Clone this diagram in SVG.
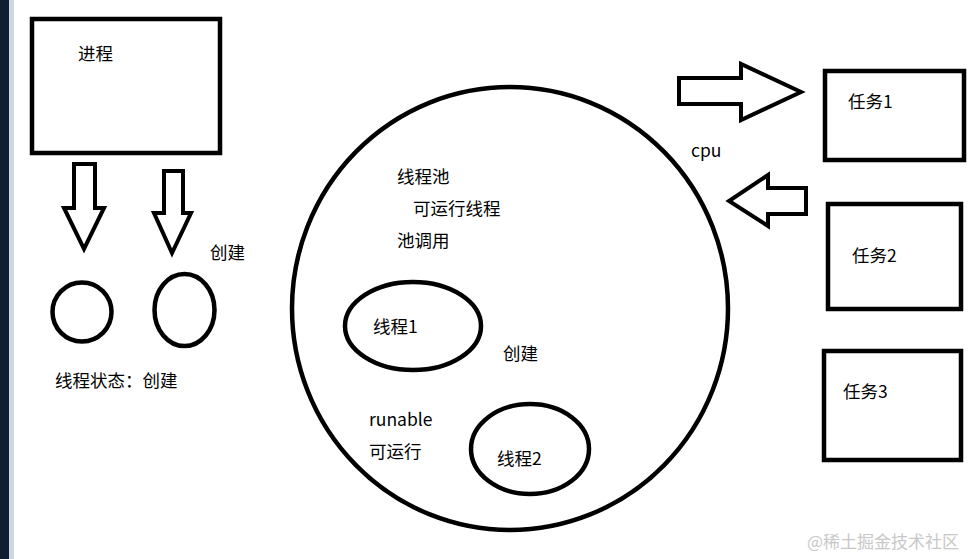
<svg xmlns="http://www.w3.org/2000/svg" width="972" height="559" viewBox="0 0 972 559">
<style>
.s{fill:none;stroke:#000;stroke-width:4.5;stroke-linejoin:miter}
.a{fill:#fff;stroke:#000;stroke-width:4;stroke-linejoin:miter}
.t{font-family:"Noto Sans CJK SC","Microsoft YaHei",sans-serif;font-size:17.5px;fill:#000}
.w{font-family:"Noto Sans CJK SC",sans-serif;font-size:17px;fill:#c8c8c8}
</style>
<rect x="0" y="0" width="972" height="559" fill="#fff"/>
<rect x="0" y="0" width="9" height="559" fill="#0f1e33"/>
<rect x="9" y="0" width="5" height="559" fill="#cdd6e4"/>
<g id="process">
<rect class="s" x="32" y="19" width="188" height="134"/>
<text class="t" x="78" y="60">进程</text>
</g>
<g id="thread-a"><circle class="s" cx="82" cy="312" r="29.5"/></g>
<g id="thread-b"><ellipse class="s" cx="184.5" cy="310" rx="30" ry="36"/></g>
<g id="label-create-left"><text class="t" x="210" y="259">创建</text></g>
<g id="label-state"><text class="t" x="55" y="387">线程状态：创建</text></g>
<g id="pool">
<ellipse class="s" cx="510" cy="308.5" rx="218" ry="221.5"/>
<text class="t" x="397" y="183">线程池</text>
<text class="t" x="413" y="215">可运行线程</text>
<text class="t" x="397" y="247">池调用</text>
<text class="t" x="503" y="360">创建</text>
<text class="t" x="369" y="426">runable</text>
<text class="t" x="369" y="458">可运行</text>
</g>
<g id="thread1">
<ellipse class="s" cx="413" cy="326" rx="68" ry="44"/>
<text class="t" x="373" y="333">线程1</text>
</g>
<g id="thread2">
<ellipse class="s" cx="530" cy="449" rx="59" ry="45"/>
<text class="t" x="497" y="465">线程2</text>
</g>
<g id="cpu"><text class="t" x="691" y="157">cpu</text></g>
<g id="task1">
<rect class="s" x="825" y="71" width="139" height="89"/>
<text class="t" x="848" y="108">任务1</text>
</g>
<g id="task2">
<rect class="s" x="828" y="204" width="133" height="105"/>
<text class="t" x="852" y="262">任务2</text>
</g>
<g id="task3">
<rect class="s" x="824" y="351" width="137" height="109"/>
<text class="t" x="843" y="398">任务3</text>
</g>
<g id="connectors">
<polygon class="a" points="74,164 95,164 95,208 104,208 84,249 64,208 74,208"/>
<polygon class="a" points="164,171 183,171 183,213 191,213 172,253 154,213 164,213"/>
<polygon class="a" points="679,78 741,78 741,64 801,92 741,120 741,104 679,104"/>
<polygon class="a" points="806,188 768,188 768,175 729,201 768,226 768,214 806,214"/>
</g>
<text class="w" x="807" y="548">@稀土掘金技术社区</text>
</svg>
